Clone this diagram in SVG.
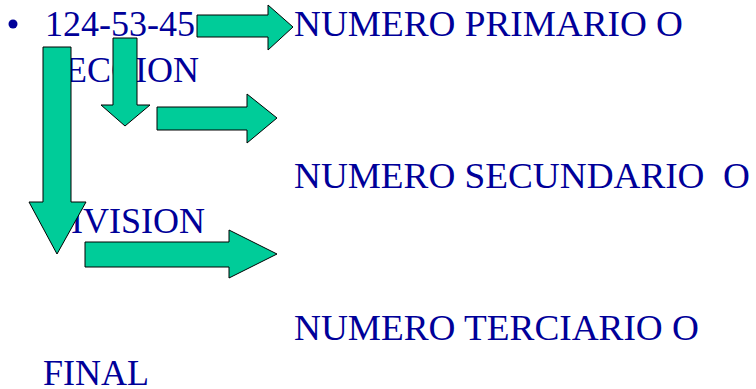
<svg xmlns="http://www.w3.org/2000/svg" width="756" height="389" viewBox="0 0 756 389">
  <style>
    .t { font-family: "Liberation Serif", "Times New Roman", serif; font-size: 36px; fill: #000099; white-space: pre; }
    .arrow { fill: #00CC99; stroke: #000000; stroke-width: 1; stroke-linejoin: miter; }
  </style>
  <rect width="756" height="389" fill="#ffffff"/>

  <!-- text block (drawn beneath the arrows) -->
  <g id="text">
    <circle cx="13" cy="24" r="4.5" fill="#000099"/>
    <text class="t" x="45" y="36">124-53-45</text>
    <text class="t" x="294" y="36" textLength="389" lengthAdjust="spacingAndGlyphs">NUMERO PRIMARIO O</text>
    <text class="t" x="45" y="82">SECCION</text>
    <text class="t" x="294" y="188" textLength="456" lengthAdjust="spacingAndGlyphs">NUMERO SECUNDARIO  O</text>
    <text class="t" x="45" y="233">DIVISION</text>
    <text class="t" x="294" y="340" textLength="405" lengthAdjust="spacingAndGlyphs">NUMERO TERCIARIO O</text>
    <text class="t" x="43" y="385">FINAL</text>
  </g>

  <!-- block arrows -->
  <g id="connectors">
    <!-- top: 124-53-45 to primary -->
    <polygon id="arrow-primary" class="arrow" points="197,15 268,15 268,5 293,27 268,50 268,37 197,37"/>
    <!-- short down arrow -->
    <polygon id="arrow-down-short" class="arrow" points="113,38 137,38 137,105 150,105 125,126 101,105 113,105"/>
    <!-- middle: to secondary -->
    <polygon id="arrow-secondary" class="arrow" points="157,107 247,107 247,94 277,118 247,143 247,130 157,130"/>
    <!-- long down arrow -->
    <polygon id="arrow-down-long" class="arrow" points="43,47 71,47 71,202 86,202 57,254 29,202 43,202"/>
    <!-- bottom: to tertiary -->
    <polygon id="arrow-tertiary" class="arrow" points="85,242 229,242 229,230 277,254 229,278 229,267 85,267"/>
  </g>
</svg>
